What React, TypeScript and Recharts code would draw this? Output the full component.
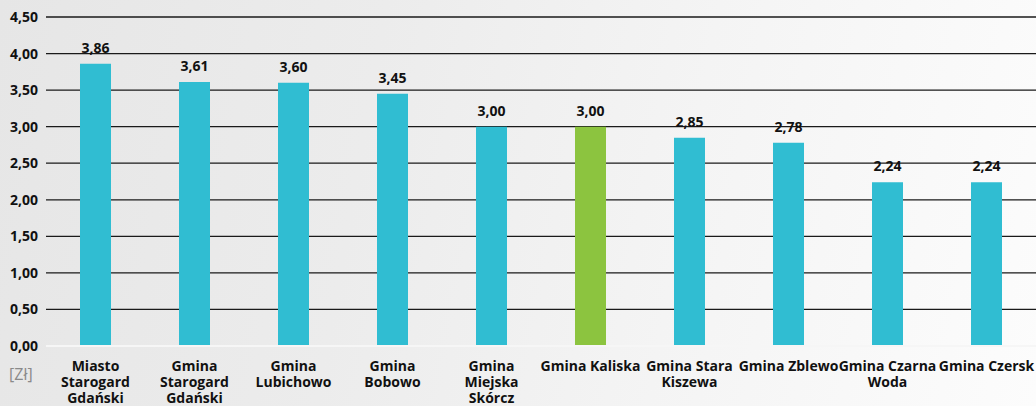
import React from "react";
import { BarChart, Bar, XAxis, YAxis, CartesianGrid, LabelList, Cell } from "recharts";

const categories = [
  "Miasto\nStarogard\nGdański",
  "Gmina\nStarogard\nGdański",
  "Gmina\nLubichowo",
  "Gmina\nBobowo",
  "Gmina\nMiejska\nSkórcz",
  "Gmina Kaliska",
  "Gmina Stara\nKiszewa",
  "Gmina Zblewo",
  "Gmina Czarna\nWoda",
  "Gmina Czersk",
];
const values = [3.86, 3.61, 3.6, 3.45, 3.0, 3.0, 2.85, 2.78, 2.24, 2.24];
const highlighted = ["Gmina Kaliska"];
const yTicks = [0, 0.5, 1, 1.5, 2, 2.5, 3, 3.5, 4, 4.5];
const unitLabel = "[Zł]";

const data = categories.map((name, i) => ({ name, value: values[i] }));

const FONT = "'Open Sans', Lato, sans-serif";
const fmt = (v: number) => v.toFixed(2).replace(".", ",");

const XTick = (props: any) => {
  const { x, y, payload } = props;
  const lines = String(payload.value).split("\n");
  return (
    <text x={x} y={y} textAnchor="middle" fontFamily={FONT} fontWeight={700} fontSize={14} fill="#111">
      {lines.map((l, i) => (
        <tspan key={i} x={x} dy={i === 0 ? 17 : 16}>
          {l}
        </tspan>
      ))}
    </text>
  );
};

export default function App() {
  return (
    <div
      style={{
        position: "fixed",
        left: 0,
        top: 0,
        width: 1036,
        height: 406,
        background: "linear-gradient(100deg, #e6e6e6 0%, #ececec 35%, #f4f4f4 65%, #fcfcfc 100%)",
        overflow: "hidden",
      }}
    >
      <BarChart
        width={1036}
        height={406}
        data={data}
        margin={{ top: 17, right: 0, bottom: 0, left: 0 }}
        barCategoryGap={0}
      >
        <CartesianGrid horizontal vertical={false} stroke="#1a1a1a" strokeWidth={1.3} />
        <YAxis
          domain={[0, 4.5]}
          ticks={yTicks}
          width={46}
          axisLine={false}
          tickLine={false}
          tickFormatter={fmt}
          tick={{ fontFamily: FONT, fontWeight: 700, fontSize: 14, fill: "#111" }}
        />
        <XAxis
          dataKey="name"
          height={60}
          interval={0}
          tickLine={false}
          axisLine={{ stroke: "#f6f6f6", strokeWidth: 2 }}
          tick={<XTick />}
        />
        <Bar dataKey="value" barSize={31} isAnimationActive={false}>
          {data.map((d, i) => (
            <Cell key={i} fill={highlighted.includes(d.name) ? "#8cc43f" : "#30bdd2"} />
          ))}
          <LabelList
            dataKey="value"
            position="top"
            offset={11}
            formatter={(v: any) => fmt(Number(v))}
            style={{ fontFamily: FONT, fontWeight: 700, fontSize: 14, fill: "#111" }}
          />
        </Bar>
      </BarChart>
      <span
        style={{
          position: "absolute",
          left: 9,
          top: 363,
          fontFamily: FONT,
          fontSize: 16,
          color: "#8a8a8a",
        }}
      >
        {unitLabel}
      </span>
    </div>
  );
}
